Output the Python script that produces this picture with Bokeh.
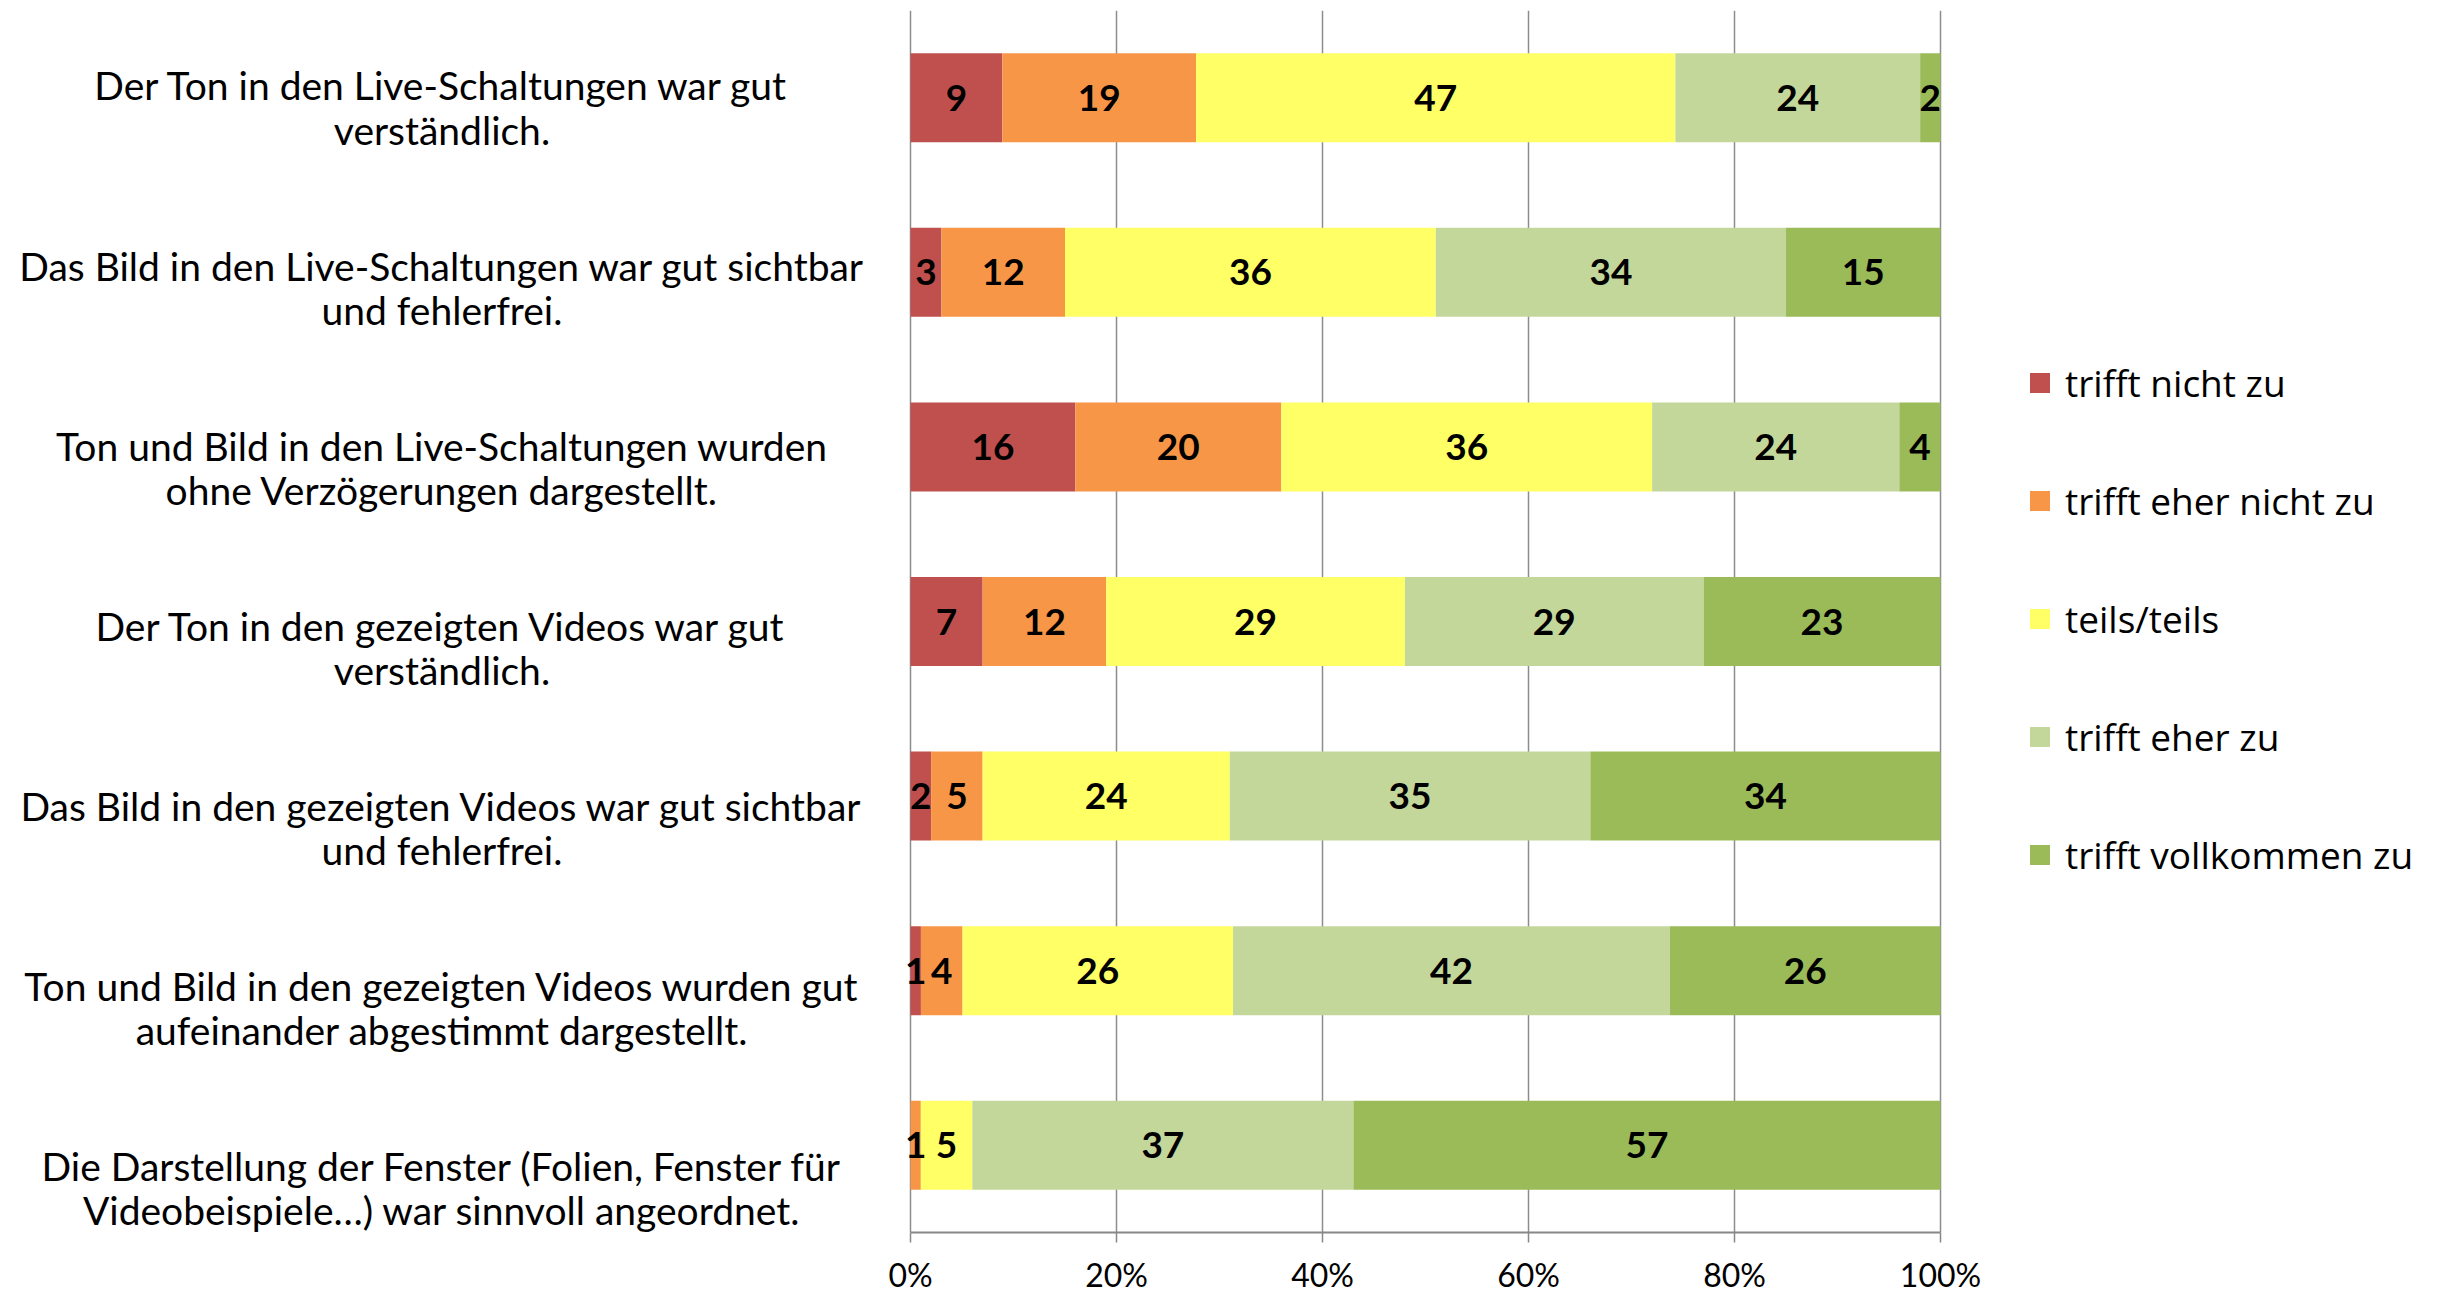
from bokeh.plotting import figure
from bokeh.models import ColumnDataSource, Range1d, FixedTicker, PrintfTickFormatter
from bokeh.core.properties import value
from bokeh.embed import file_html
from bokeh.resources import INLINE

categories = [
    "Der Ton in den Live-Schaltungen war gut\nverständlich.",
    "Das Bild in den Live-Schaltungen war gut sichtbar\nund fehlerfrei.",
    "Ton und Bild in den Live-Schaltungen wurden\nohne Verzögerungen dargestellt.",
    "Der Ton in den gezeigten Videos war gut\nverständlich.",
    "Das Bild in den gezeigten Videos war gut sichtbar\nund fehlerfrei.",
    "Ton und Bild in den gezeigten Videos wurden gut\naufeinander abgestimmt dargestellt.",
    "Die Darstellung der Fenster (Folien, Fenster für\nVideobeispiele…) war sinnvoll angeordnet.",
]
series_names = ["trifft nicht zu", "trifft eher nicht zu", "teils/teils",
                "trifft eher zu", "trifft vollkommen zu"]
trifft_nicht_zu = [9, 3, 16, 7, 2, 1, 0]
trifft_eher_nicht_zu = [19, 12, 20, 12, 5, 4, 1]
teils_teils = [47, 36, 36, 29, 24, 26, 5]
trifft_eher_zu = [24, 34, 24, 29, 35, 42, 37]
trifft_vollkommen_zu = [2, 15, 4, 23, 34, 26, 57]
tick_values = [0, 20, 40, 60, 80, 100]
colors = ["#C0504D", "#F79646", "#FFFF66", "#C4D79B", "#9BBB59"]

series = [trifft_nicht_zu, trifft_eher_nicht_zu, teils_teils, trifft_eher_zu, trifft_vollkommen_zu]
n = len(categories)
totals = [sum(s[i] for s in series) for i in range(n)]
idx = list(range(n))

p = figure(width=2440, height=1296,
           y_range=Range1d(n - 0.5, -0.5),
           x_range=Range1d(-88.35, 148.54),
           output_backend="svg", toolbar_location=None,
           y_axis_location=None,
           min_border_left=0, min_border_right=0, min_border_top=10, min_border_bottom=61)
p.outline_line_color = None
p.background_fill_color = "white"
p.border_fill_color = "white"
p.extra_y_ranges = {"labels": Range1d(start=6.248, end=-0.539)}

lefts = [0.0] * n
lab_x, lab_y, lab_t = [], [], []
for name, vals, col in zip(series_names, series, colors):
    pct = [v / t * 100 for v, t in zip(vals, totals)]
    rights = [l + q for l, q in zip(lefts, pct)]
    src = ColumnDataSource(dict(y=idx, left=lefts, right=rights))
    p.hbar(y="y", left="left", right="right", height=0.51, source=src,
           fill_color=col, line_color=None, legend_label=name)
    for i, l, q, v in zip(idx, lefts, pct, vals):
        if v > 0:
            lab_x.append(l + q / 2)
            lab_y.append(i)
            lab_t.append(str(v))
    lefts = rights

p.text(x=lab_x, y=lab_y, text=lab_t, text_align="center", text_baseline="middle",
       text_font=value("Lato"), text_font_style="bold", text_font_size="37px",
       text_color="black")

cat_x = [-45.49] * n
p.text(x=cat_x, y=idx, text=categories, y_range_name="labels",
       text_align="center", text_baseline="middle", text_font=value("Lato"),
       text_font_size="39px", text_line_height=0.96, text_color="black")

ax = p.xaxis[0]
ax.bounds = (0, 100)
ax.ticker = FixedTicker(ticks=tick_values)
ax.formatter = PrintfTickFormatter(format="%d%%")
ax.axis_line_color = "#888888"
ax.axis_line_width = 2
ax.major_tick_line_color = "#888888"
ax.major_tick_line_width = 1.5
ax.major_tick_out = 10
ax.major_tick_in = 0
ax.minor_tick_line_color = None
ax.major_label_standoff = 12
ax.major_label_text_font = "Lato"
ax.major_label_text_font_size = "32px"
ax.major_label_text_color = "black"

p.xgrid.ticker = FixedTicker(ticks=tick_values)
p.xgrid.grid_line_color = "#8c8c8c"
p.xgrid.grid_line_width = 1.5
p.ygrid.grid_line_color = None

leg = p.legend[0]
leg.location = (2027, 352)
leg.padding = 0
leg.margin = 0
leg.border_line_color = None
leg.background_fill_alpha = 0
leg.glyph_width = 25
leg.glyph_height = 25
leg.label_height = 52
leg.spacing = 66
leg.label_standoff = 13
leg.label_text_font = "Open Sans"
leg.label_text_font_size = "37px"
leg.label_text_color = "black"
leg.label_text_baseline = "middle"

open("out.html", "w").write(file_html(p, INLINE))
